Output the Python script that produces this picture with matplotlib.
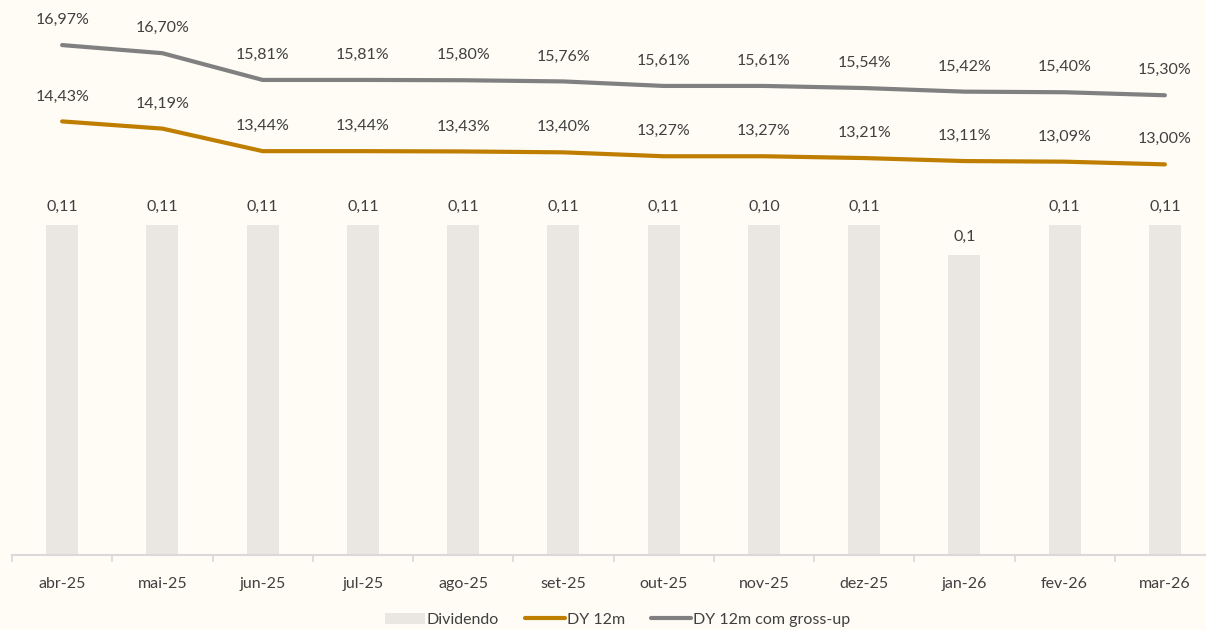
import matplotlib.pyplot as plt
import numpy as np

# --- data ---
months = ['abr-25', 'mai-25', 'jun-25', 'jul-25', 'ago-25', 'set-25',
          'out-25', 'nov-25', 'dez-25', 'jan-26', 'fev-26', 'mar-26']
dividendo = [0.11, 0.11, 0.11, 0.11, 0.11, 0.11, 0.11, 0.11, 0.11, 0.10, 0.11, 0.11]
dividendo_labels = ['0,11', '0,11', '0,11', '0,11', '0,11', '0,11',
                    '0,11', '0,10', '0,11', '0,1', '0,11', '0,11']
dy_12m = [14.43, 14.19, 13.44, 13.44, 13.43, 13.40, 13.27, 13.27, 13.21, 13.11, 13.09, 13.00]
dy_gross = [16.97, 16.70, 15.81, 15.81, 15.80, 15.76, 15.61, 15.61, 15.54, 15.42, 15.40, 15.30]

BG = '#FEFCF5'
BAR = '#EAE6E1'
GOLD = '#BF7E00'
GRAY = '#808080'
TXT = '#404040'

plt.rcParams['font.family'] = ['Lato', 'DejaVu Sans']

fig = plt.figure(figsize=(12.06, 6.3), dpi=100, facecolor=BG)
ax = fig.add_axes([12 / 1206, 75 / 630, 1 - 12 / 1206, 555 / 630])
ax.set_facecolor(BG)
x = np.arange(len(months))

# --- bars (primary axis) ---
ax.bar(x, dividendo, width=0.32, color=BAR, zorder=1, label='Dividendo')
for xi, v, lab in zip(x, dividendo, dividendo_labels):
    ax.annotate(lab, (xi, v), xytext=(0, 18), textcoords='offset pixels',
                ha='center', va='center', fontsize=11.5, color=TXT)
ax.set_ylim(0, 0.185)
ax.set_xlim(-0.5, 11.41)

# --- lines (secondary axis) ---
ax2 = ax.twinx()
ax2.plot(x, dy_12m, color=GOLD, lw=3, solid_capstyle='round', label='DY 12m')
ax2.plot(x, dy_gross, color=GRAY, lw=3, solid_capstyle='round', label='DY 12m com gross-up')
for xi, a, b in zip(x, dy_12m, dy_gross):
    ax2.annotate(f'{a:.2f}%'.replace('.', ','), (xi, a), xytext=(0, 25),
                 textcoords='offset pixels', ha='center', va='center',
                 fontsize=11.5, color=TXT)
    ax2.annotate(f'{b:.2f}%'.replace('.', ','), (xi, b), xytext=(0, 25),
                 textcoords='offset pixels', ha='center', va='center',
                 fontsize=11.5, color=TXT)
ax2.set_ylim(0, 18.47)
ax2.set_yticks([])

# --- axes styling ---
for a in (ax, ax2):
    for s in ('top', 'right', 'left'):
        a.spines[s].set_visible(False)
    a.spines['bottom'].set_color('#D9D9D9')
    a.spines['bottom'].set_linewidth(1.5)
ax2.spines['bottom'].set_visible(False)
ax.set_yticks([])
ax.set_xticks(np.arange(-0.5, 11.5, 1.0))
ax.set_xticklabels([])
ax.set_xticks(x, minor=True)
ax.set_xticklabels(months, minor=True)
ax.tick_params(axis='x', which='major', length=5, width=1.2, color='#D9D9D9')
ax.tick_params(axis='x', which='minor', length=0, pad=16, labelsize=11.5, labelcolor=TXT)

# --- legend ---
h1, l1 = ax.get_legend_handles_labels()
h2, l2 = ax2.get_legend_handles_labels()
leg = fig.legend(h1 + h2, l1 + l2, loc='center', bbox_to_anchor=(0.512, 0.016),
                 ncol=3, frameon=False, fontsize=11.5, handlelength=2.5,
                 handletextpad=0.15, columnspacing=1.6, labelcolor=TXT)

fig.savefig('out.png', dpi=100, facecolor=BG)
